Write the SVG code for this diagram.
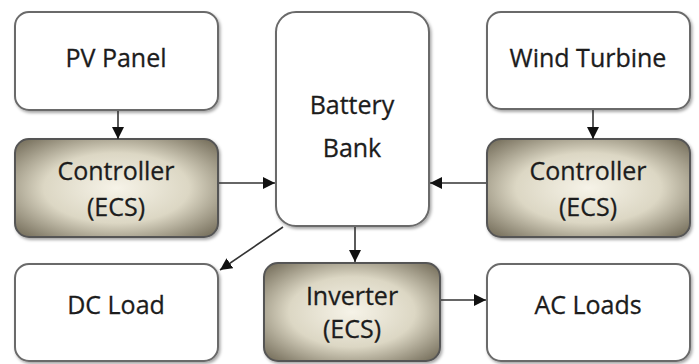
<svg xmlns="http://www.w3.org/2000/svg" width="699" height="364" viewBox="0 0 699 364">
<defs>
<radialGradient id="g" cx="50%" cy="50%" r="65%">
<stop offset="0" stop-color="#f6f3e8"/>
<stop offset="0.55" stop-color="#dcd7c4"/>
<stop offset="1" stop-color="#7e7764"/>
</radialGradient>
<marker id="a" viewBox="0 0 10 10" refX="10" refY="5" markerWidth="12" markerHeight="12" markerUnits="userSpaceOnUse" orient="auto">
<path d="M0,0 L10,5 L0,10 Z" fill="#111"/>
</marker>
<filter id="s" x="-10%" y="-10%" width="125%" height="125%">
<feDropShadow dx="1.5" dy="2" stdDeviation="1.5" flood-color="#000" flood-opacity="0.35"/>
</filter>
</defs>
<style>
.w{fill:#fff;stroke:#6a6a6a;stroke-width:2;filter:url(#s)}
.c{fill:url(#g);stroke:#555;stroke-width:2;filter:url(#s)}
text{font-family:"Open Sans","Liberation Sans",sans-serif;font-size:25px;fill:#1c1c1c;stroke:#1c1c1c;stroke-width:0.3;text-anchor:middle}
.l{stroke:#333;stroke-width:1.6;fill:none;marker-end:url(#a)}
</style>
<rect width="699" height="364" fill="#fff"/>
<g id="pv"><rect class="w" x="15" y="12" width="203" height="98" rx="14"/><text x="116" y="67">PV Panel</text></g>
<g id="ctrl-left"><rect class="c" x="15" y="139" width="203" height="98" rx="14"/><text x="116" y="180">Controller</text><text x="116" y="216">(ECS)</text></g>
<g id="battery"><rect class="w" x="276" y="12" width="153" height="214" rx="20"/><text x="352" y="114">Battery</text><text x="352" y="157">Bank</text></g>
<g id="wind"><rect class="w" x="487" y="12" width="203" height="97" rx="14"/><text x="588" y="67">Wind Turbine</text></g>
<g id="ctrl-right"><rect class="c" x="487" y="139" width="203" height="98" rx="14"/><text x="588" y="180">Controller</text><text x="588" y="216">(ECS)</text></g>
<g id="dc"><rect class="w" x="15" y="264" width="203" height="97" rx="14"/><text x="116" y="314">DC Load</text></g>
<g id="inverter"><rect class="c" x="264" y="263" width="176" height="98" rx="14"/><text x="352" y="305">Inverter</text><text x="352" y="338">(ECS)</text></g>
<g id="ac"><rect class="w" x="487" y="264" width="203" height="97" rx="14"/><text x="588" y="314">AC Loads</text></g>
<g id="connectors">
<line class="l" x1="118" y1="111" x2="118" y2="139"/>
<line class="l" x1="219" y1="183" x2="275" y2="183"/>
<line class="l" x1="486" y1="183" x2="430" y2="183"/>
<line class="l" x1="283" y1="227" x2="220" y2="270"/>
<line class="l" x1="355" y1="227" x2="355" y2="262"/>
<line class="l" x1="441" y1="300" x2="486" y2="300"/>
<line class="l" x1="593" y1="110" x2="593" y2="139"/>
</g>
</svg>
